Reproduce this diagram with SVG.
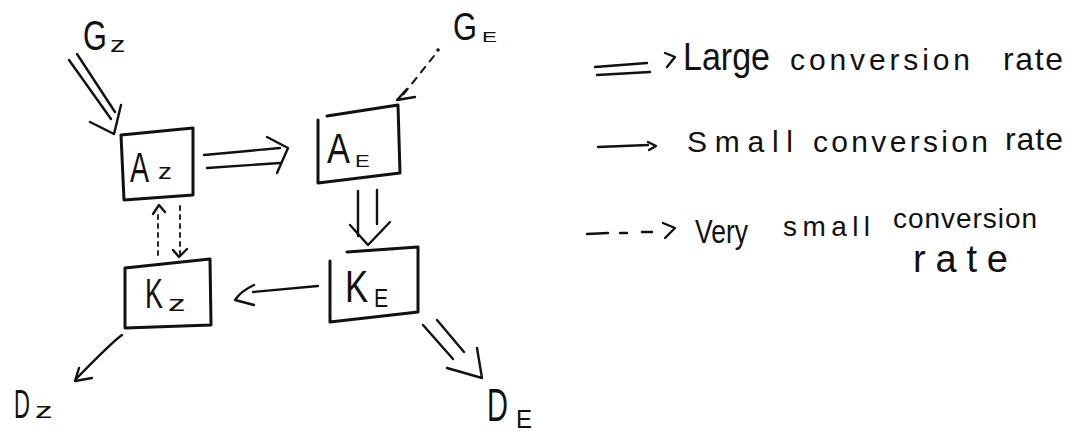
<svg xmlns="http://www.w3.org/2000/svg" width="1081" height="433" viewBox="0 0 1081 433">
  <style>
    .ink { fill: none; stroke: #111; stroke-width: 3; stroke-linecap: round; stroke-linejoin: round; }
    .thin { fill: none; stroke: #111; stroke-width: 2.4; stroke-linecap: round; stroke-linejoin: round; }
    .dash { fill: none; stroke: #111; stroke-width: 2; stroke-linecap: round; stroke-dasharray: 7 7; }
    .dot { fill: none; stroke: #111; stroke-width: 1.8; stroke-linecap: round; stroke-dasharray: 4 5; }
    text { font-family: "Liberation Sans", Arial, sans-serif; fill: #111; }
  </style>
  <rect width="1081" height="433" fill="#fff"/>

  <!-- nodes: narrow capital letter with a subscript -->
  <g id="node-GZ">
    <text font-size="42" transform="translate(83,50) scale(0.73,1)">G</text>
    <text font-size="22" transform="translate(110,52) scale(1.4,1)">z</text>
  </g>
  <g id="node-GE">
    <text font-size="38" transform="translate(453,40) scale(0.81,1)">G</text>
    <text font-size="14" transform="translate(482,42) scale(1.6,1)">E</text>
  </g>
  <g id="node-AZ">
    <path class="ink" d="M121,135 L193,128 L193,195 L124,200 Z"/>
    <text font-size="42" transform="translate(130,182) scale(0.68,1)">A</text>
    <text font-size="22" transform="translate(158,179) scale(1.27,1)">z</text>
  </g>
  <g id="node-AE">
    <path class="ink" d="M327,116 L398,105 L400,173 L318,183 L318,120"/>
    <text font-size="42" transform="translate(327,163) scale(0.82,1)">A</text>
    <text font-size="17" transform="translate(355,167) scale(1.3,1)">E</text>
  </g>
  <g id="node-KZ">
    <path class="ink" d="M125,268 L210,259 L211,325 L125,328 Z"/>
    <text font-size="42" transform="translate(145,308) scale(0.64,1)">K</text>
    <text font-size="22" transform="translate(168,311) scale(1.6,1)">z</text>
  </g>
  <g id="node-KE">
    <path class="ink" d="M347,252 L418,247 L418,312 L330,322 L330,261"/>
    <text font-size="44" transform="translate(345,302) scale(0.79,1)">K</text>
    <text font-size="25" transform="translate(374,307) scale(0.85,1)">E</text>
  </g>
  <g id="node-DZ">
    <text font-size="40" transform="translate(14,418) scale(0.55,1)">D</text>
    <text font-size="22" transform="translate(35,418) scale(1.6,1)">z</text>
  </g>
  <g id="node-DE">
    <text font-size="46" transform="translate(487,421) scale(0.63,1)">D</text>
    <text font-size="25" transform="translate(516,428) scale(0.96,1)">E</text>
  </g>

  <!-- connectors -->
  <g id="connectors">
    <!-- G_Z to A_Z, large rate (double line) -->
    <path class="thin" d="M69,60 L111,119 M77,54 L115,112"/>
    <path class="thin" d="M90,122 L114,134 L121,105"/>
    <!-- A_Z to A_E, large rate -->
    <path class="thin" d="M204,155 L280,148 M207,168 L280,163"/>
    <path class="thin" d="M267,137 L288,148 L277,173"/>
    <!-- G_E to A_E, very small rate (dashed) -->
    <circle cx="438" cy="50" r="1.8" fill="#111"/>
    <path class="dash" d="M434,56 L402,96"/>
    <path class="thin" d="M407,89 L397,100 L415,97"/>
    <!-- A_E to K_E, large rate -->
    <path class="thin" d="M358,191 L358,236 M377,190 L377,224"/>
    <path class="thin" d="M350,225 L368,245 L390,222"/>
    <!-- K_E to K_Z, small rate -->
    <path class="thin" d="M318,286 L253,292"/>
    <path class="thin" d="M254,285 Q241,291 235,300 L254,305"/>
    <!-- A_Z and K_Z, very small rate both ways (dotted) -->
    <path class="dot" d="M158,255 L158,212"/>
    <path class="thin" d="M153,214 L159,205 L165,212"/>
    <path class="dot" d="M180,206 L180,254"/>
    <path class="thin" d="M173,250 L179,257 L187,249"/>
    <!-- K_Z to D_Z, small rate -->
    <path class="thin" d="M122,335 Q112,342 77,378"/>
    <path class="thin" d="M79,368 L75,381 L92,378"/>
    <!-- K_E to D_E, large rate -->
    <path class="thin" d="M423,325 L453,359 M437,320 L464,352"/>
    <path class="thin" d="M447,368 L482,378 L477,348"/>
  </g>

  <!-- legend -->
  <g id="legend">
    <path class="thin" d="M595,67 L647,63 M597,75 L650,72"/>
    <path class="thin" d="M665,53 L675,57 L667,67"/>
    <text x="683" y="70" font-size="38" textLength="87" lengthAdjust="spacingAndGlyphs">Large</text>
    <text x="790" y="70" font-size="30" textLength="180" lengthAdjust="spacing">conversion</text>
    <text x="1003" y="70" font-size="32" textLength="60" lengthAdjust="spacing">rate</text>

    <path class="thin" d="M598,147 L648,145"/>
    <path class="thin" d="M648,142 L656,146 L649,150"/>
    <text x="687" y="152" font-size="30" textLength="106" lengthAdjust="spacing">Small</text>
    <text x="813" y="152" font-size="30" textLength="175" lengthAdjust="spacing">conversion</text>
    <text x="1005" y="150" font-size="32" textLength="58" lengthAdjust="spacing">rate</text>

    <path class="thin" d="M587,234 L608,233 M620,233 L627,233 M642,232 L652,232"/>
    <path class="thin" d="M663,223 L675,228 L665,238"/>
    <text x="695" y="243" font-size="34" textLength="53" lengthAdjust="spacingAndGlyphs">Very</text>
    <text x="783" y="236" font-size="28" textLength="87" lengthAdjust="spacing">small</text>
    <text x="893" y="228" font-size="28" textLength="144" lengthAdjust="spacing">conversion</text>
    <text x="913" y="272" font-size="38" textLength="95" lengthAdjust="spacing">rate</text>
  </g>
</svg>
